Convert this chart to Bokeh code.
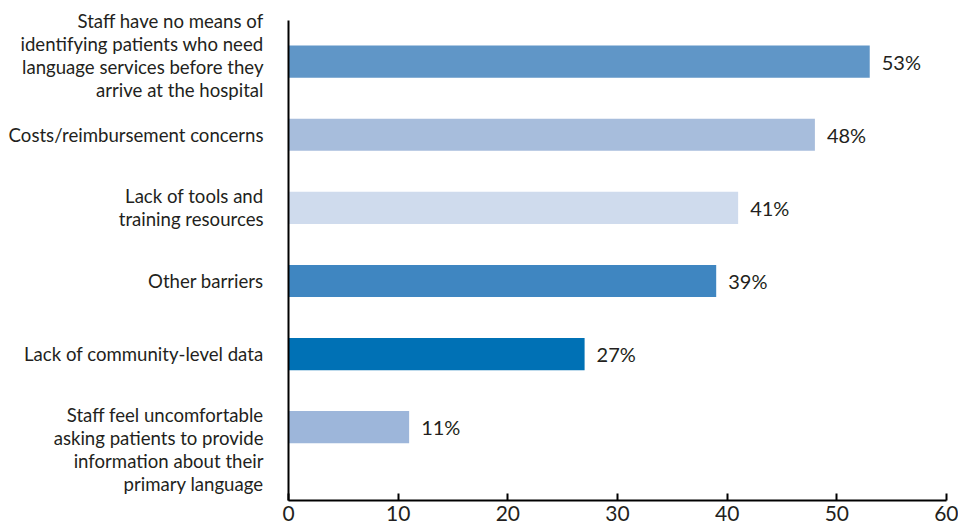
from bokeh.plotting import figure
from bokeh.models import Range1d, FixedTicker, ColumnDataSource
from bokeh.core.properties import value
from bokeh.embed import file_html
from bokeh.resources import INLINE

categories = [
    "Staff have no means of\nidentifying patients who need\nlanguage services before they\narrive at the hospital",
    "Costs/reimbursement concerns",
    "Lack of tools and\ntraining resources",
    "Other barriers",
    "Lack of community-level data",
    "Staff feel uncomfortable\nasking patients to provide\ninformation about their\nprimary language",
]
values = [53, 48, 41, 39, 27, 11]
colors = ["#6096c7", "#a7bddc", "#cfdbed", "#3f86c1", "#0071b5", "#9db6da"]
x_ticks = [0, 10, 20, 30, 40, 50, 60]

FONT = "Lato"
TXT = "#231f20"

p = figure(width=958, height=523, output_backend="svg", toolbar_location=None,
           x_range=Range1d(0, 60), y_range=Range1d(6.003, -0.563))
p.min_border_left = 288
p.min_border_top = 20
p.min_border_right = 12
p.min_border_bottom = 10
p.outline_line_color = None
p.grid.grid_line_color = None

idx = list(range(len(values)))
src = ColumnDataSource(dict(y=idx, v=values, c=colors,
                            lab=[f"{v}%" for v in values]))
p.hbar(y="y", right="v", left=0, height=0.44, fill_color="c", line_color=None, source=src)
p.text(x="v", y="y", text="lab", source=src, x_offset=12, text_baseline="middle",
       text_align="left", text_font=value(FONT), text_font_size="20px", text_color=TXT)

# x axis
xa = p.xaxis[0]
xa.ticker = FixedTicker(ticks=x_ticks)
xa.axis_line_width = 2
xa.axis_line_color = "black"
xa.major_tick_in = 7
xa.major_tick_out = 0
xa.major_tick_line_width = 2
xa.major_tick_line_color = "black"
xa.minor_tick_line_color = None
xa.major_label_text_font = FONT
xa.major_label_text_font_size = "21px"
xa.major_label_text_color = TXT
xa.major_label_standoff = 5

# y axis: category labels (positions shifted in pixels / 72.8 px per category)
label_shift_px = [-6, 0, 0, 0, 0, 22]
tick_pos = [i + s / 72.8 for i, s in enumerate(label_shift_px)]
ya = p.yaxis[0]
ya.ticker = FixedTicker(ticks=tick_pos)
ya.major_label_overrides = {t: c for t, c in zip(tick_pos, categories)}
ya.axis_line_width = 2
ya.axis_line_color = "black"
ya.major_tick_line_color = None
ya.minor_tick_line_color = None
ya.major_label_text_font = FONT
ya.major_label_text_font_size = "18.6px"
ya.major_label_text_color = TXT
ya.major_label_text_line_height = 1.04
ya.major_label_standoff = 19

open("out.html", "w").write(file_html(p, INLINE))
